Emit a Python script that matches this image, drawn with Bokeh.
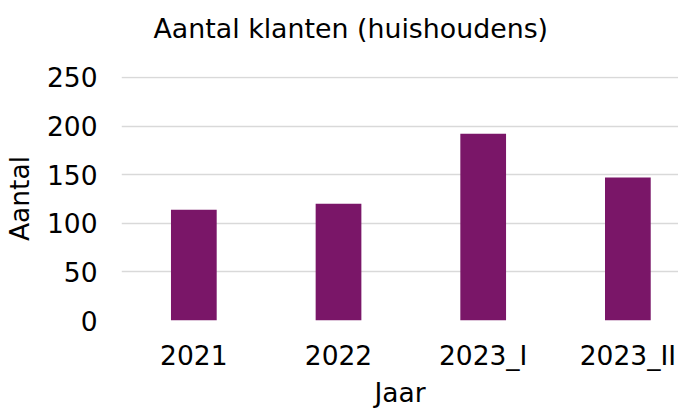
from bokeh.plotting import figure
from bokeh.models import Range1d, FixedTicker, Title
from bokeh.embed import file_html
from bokeh.resources import INLINE

# Data
categories = ["2021", "2022", "2023_I", "2023_II"]
values = [114, 120, 192, 147]
y_ticks = [0, 50, 100, 150, 200, 250]
title_text = "Aantal klanten (huishoudens)"
x_title = "Jaar"
y_title = "Aantal"

FONT = "DejaVu Sans"
FS = "26.5px"
xs = [i + 0.5 for i in range(len(categories))]

p = figure(width=678, height=410, output_backend="svg", toolbar_location=None,
           x_range=Range1d(0, 3.85), y_range=Range1d(0, 251),
           min_border_left=113, min_border_right=0, min_border_top=76,
           min_border_bottom=87)

p.vbar(x=xs, top=values, width=0.316, color="#7a1668", line_color=None)

p.outline_line_color = None
p.background_fill_color = "white"
p.border_fill_color = "white"

# spacer between frame and title
p.add_layout(Title(text=" ", text_font_size="1px", standoff=28), "above")

p.title.text = title_text
p.title.text_font = FONT
p.title.text_font_size = "26.8px"
p.title.text_font_style = "normal"
p.title.text_color = "black"
p.title.align = "left"
p.title.offset = 32
p.title.vertical_align = "top"
p.title.standoff = 0

# y axis
p.yaxis.ticker = FixedTicker(ticks=y_ticks)
p.yaxis.axis_line_color = None
p.yaxis.major_tick_line_color = None
p.yaxis.minor_tick_line_color = None
p.yaxis.major_tick_out = 0
p.yaxis.major_label_standoff = 24
p.yaxis.major_label_text_font = FONT
p.yaxis.major_label_text_font_size = FS
p.yaxis.major_label_text_color = "black"
p.yaxis.axis_label = y_title
p.yaxis.axis_label_text_font = FONT
p.yaxis.axis_label_text_font_size = FS
p.yaxis.axis_label_text_font_style = "normal"
p.yaxis.axis_label_text_color = "black"
p.yaxis.axis_label_standoff = 9

# x axis
p.xaxis.ticker = FixedTicker(ticks=xs)
p.xaxis.major_label_overrides = {x: c for x, c in zip(xs, categories)}
p.xaxis.axis_line_color = None
p.xaxis.major_tick_line_color = None
p.xaxis.minor_tick_line_color = None
p.xaxis.major_tick_out = 0
p.xaxis.major_label_standoff = 19
p.xaxis.major_label_text_font = FONT
p.xaxis.major_label_text_font_size = FS
p.xaxis.major_label_text_color = "black"
p.xaxis.axis_label = x_title
p.xaxis.axis_label_text_font = FONT
p.xaxis.axis_label_text_font_size = FS
p.xaxis.axis_label_text_font_style = "normal"
p.xaxis.axis_label_text_color = "black"
p.xaxis.axis_label_standoff = 3

p.xgrid.grid_line_color = None
p.ygrid.grid_line_color = "#d9d9d9"
p.ygrid.grid_line_width = 1.5

open("out.html", "w").write(file_html(p, INLINE))
